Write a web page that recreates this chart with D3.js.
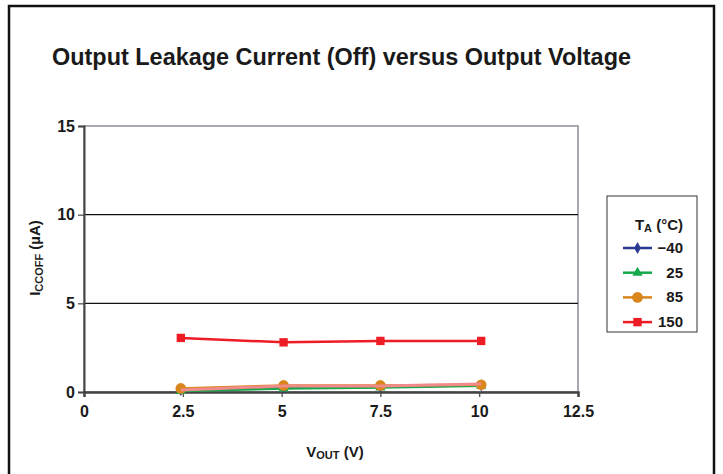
<!DOCTYPE html>
<html><head><meta charset="utf-8">
<script src="https://cdn.jsdelivr.net/npm/d3@7"></script>
<style>body{margin:0;background:#fff}svg{display:block;font-family:"Liberation Sans",Arial,sans-serif}
.tk text{font-size:16px !important;font-weight:bold;fill:#1a1a1a}</style>
</head><body><svg id="c" width="723" height="474"></svg>
<script>
const xValues = [2.45, 5.05, 7.5, 10.05];
const tMinus40 = [0.1, 0.25, 0.3, 0.38];
const t25 = [0.05, 0.2, 0.25, 0.35];
const t85 = [0.2, 0.37, 0.37, 0.41];
const t150 = [3.05, 2.8, 2.88, 2.88];
const pinkOverlay = [0.11, 0.34, 0.34, 0.45];
const xTicks = [0, 2.5, 5, 7.5, 10, 12.5];
const yTicks = [0, 5, 10, 15];
const legendLabels = ["\u221240", "25", "85", "150"];

const svg = d3.select("#c");
const L = 84, R = 578, T = 126, B = 392;
const x = d3.scaleLinear().domain([0, 12.5]).range([L, R]);
const y = d3.scaleLinear().domain([0, 15]).range([B, T]);

// outer frame
svg.append("rect").attr("x", 9).attr("y", 6).attr("width", 705).attr("height", 480)
  .attr("fill", "none").attr("stroke", "#111").attr("stroke-width", 2.5);

svg.append("text").attr("x", 52).attr("y", 65).style("font-size", "23px").attr("font-weight", "bold")
  .attr("fill", "#1a1a1a").attr("textLength", 579).attr("lengthAdjust", "spacingAndGlyphs")
  .text("Output Leakage Current (Off) versus Output Voltage");

// plot border
svg.append("rect").attr("x", L).attr("y", T).attr("width", R - L).attr("height", B - T)
  .attr("fill", "none").attr("stroke", "#8a8f96").attr("stroke-width", 1.5);

// gridlines
svg.append("g").selectAll("line").data(yTicks.filter(d => d > 0 && d < 15)).join("line")
  .attr("x1", L).attr("x2", R).attr("y1", d => y(d)).attr("y2", d => y(d))
  .attr("stroke", "#111").attr("stroke-width", 1.2);

// axes
const yAxis = svg.append("g").attr("class", "tk").attr("transform", `translate(${L},0)`)
  .call(d3.axisLeft(y).tickValues(yTicks).tickSize(6).tickPadding(3).tickFormat(d3.format("d")))
  .attr("font-size", 16).attr("font-family", "Liberation Sans, Arial, sans-serif");
yAxis.select(".domain").attr("stroke", "#444").attr("stroke-width", 2);
yAxis.selectAll(".tick line").attr("stroke", "#444").attr("stroke-width", 1.2);

const xAxis = svg.append("g").attr("class", "tk").attr("transform", `translate(0,${B})`)
  .call(d3.axisBottom(x).tickValues(xTicks).tickSize(5).tickPadding(9).tickFormat(d => d))
  .attr("font-size", 16).attr("font-family", "Liberation Sans, Arial, sans-serif");
xAxis.select(".domain").attr("stroke", "#444").attr("stroke-width", 2.5);
xAxis.selectAll(".tick line").attr("stroke", "#444").attr("stroke-width", 1.2);

// axis titles
const yl = svg.append("text").attr("transform", `translate(40,258) rotate(-90)`).attr("text-anchor", "middle")
  .style("font-size", "15px").attr("font-weight", "bold").attr("fill", "#1a1a1a");
yl.append("tspan").text("I");
yl.append("tspan").style("font-size", "11px").attr("dy", 3).text("CCOFF");
yl.append("tspan").attr("dy", -3).text(" (\u00b5A)");

const xl = svg.append("text").attr("x", 335).attr("y", 457).attr("text-anchor", "middle")
  .style("font-size", "15px").attr("font-weight", "bold").attr("fill", "#1a1a1a");
xl.append("tspan").text("V");
xl.append("tspan").style("font-size", "11px").attr("dy", 2).text("OUT");
xl.append("tspan").attr("dy", -2).text(" (V)");

const line = d3.line().x((d, i) => x(xValues[i])).y(d => y(d));
const series = [
  {vals: tMinus40, color: "#2b3990", shape: d3.symbolDiamond, size: 40},
  {vals: t25, color: "#17a84b", shape: d3.symbolTriangle, size: 45},
  {vals: t85, color: "#d9861c", shape: d3.symbolCircle, size: 90},
  {vals: t150, color: "#ee1c25", shape: d3.symbolSquare, size: 70}
];
const plot = svg.append("g");
function drawSeries(s) {
  plot.append("path").attr("d", line(s.vals)).attr("fill", "none").attr("stroke", s.color).attr("stroke-width", 2.5);
  plot.append("g").selectAll("path").data(s.vals).join("path")
    .attr("transform", (d, i) => `translate(${x(xValues[i])},${y(d)})`)
    .attr("d", d3.symbol().type(s.shape).size(s.size)).attr("fill", s.color);
}
drawSeries(series[0]);
drawSeries(series[1]);
drawSeries(series[2]);
plot.append("path").attr("d", line(pinkOverlay)).attr("fill", "none").attr("stroke", "#f08a8c").attr("stroke-width", 3);
drawSeries(series[3]);

// legend
const lg = svg.append("g");
lg.append("rect").attr("x", 607).attr("y", 196).attr("width", 90).attr("height", 136)
  .attr("fill", "#fff").attr("stroke", "#333").attr("stroke-width", 1);
const lt = lg.append("text").attr("x", 683).attr("y", 230).attr("text-anchor", "end")
  .style("font-size", "15px").attr("font-weight", "bold").attr("fill", "#1a1a1a");
lt.append("tspan").text("T");
lt.append("tspan").style("font-size", "11px").attr("dy", 2).text("A");
lt.append("tspan").attr("dy", -2).text(" (\u00b0C)");
series.forEach((s, i) => {
  const yy = 248 + i * 24.7;
  lg.append("line").attr("x1", 623).attr("x2", 652).attr("y1", yy).attr("y2", yy)
    .attr("stroke", s.color).attr("stroke-width", 2.5);
  lg.append("path").attr("transform", `translate(637.5,${yy})`)
    .attr("d", d3.symbol().type(s.shape).size(s.size)).attr("fill", s.color);
  lg.append("text").attr("x", 683).attr("y", yy + 5).attr("text-anchor", "end")
    .style("font-size", "15px").attr("font-weight", "bold").attr("fill", "#1a1a1a").text(legendLabels[i]);
});
</script></body></html>
